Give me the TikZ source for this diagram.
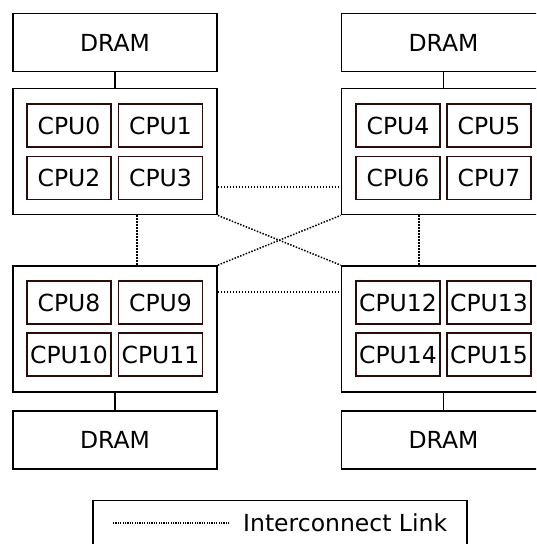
\documentclass[tikz,border=0pt]{standalone}
\usepackage{fontspec}
\setmainfont{DejaVu Sans}
\definecolor{cpuedge}{RGB}{42,12,12}

\begin{document}
\begin{tikzpicture}[x=1pt,y=-1pt,font=\fontsize{23.5}{27}\selectfont]
    \tikzset{dram/.style = {shape=rectangle,draw,line width=1.8pt,minimum width=204pt,minimum height=58pt,inner sep=0pt}}
    \tikzset{socket/.style = {shape=rectangle,draw,line width=1.8pt,minimum width=204pt,minimum height=126pt,inner sep=0pt}}
    \tikzset{cpu/.style = {shape=rectangle,draw=cpuedge,line width=1.5pt,minimum width=84pt,minimum height=43pt,inner sep=0pt}}
    \tikzset{bus/.style = {line width=1.5pt}}
    \tikzset{link/.style = {line width=1.5pt,dash pattern=on 1.5pt off 1.5pt}}
    \useasboundingbox (0,0) rectangle (536,544);
    \clip (0,0) rectangle (536,544);
    \fill[white] (0,0) rectangle (536,544);
    % memory
    \node[dram] (m0) at (115,42.5) {DRAM};
    \node[dram] (m1) at (443.5,42.5) {DRAM};
    \node[dram] (m2) at (115,440) {DRAM};
    \node[dram] (m3) at (443.5,440) {DRAM};
    % sockets
    \node[socket] (s0) at (115,151.5) {};
    \node[socket] (s1) at (443.5,151.5) {};
    \node[socket] (s2) at (115,329) {};
    \node[socket] (s3) at (443.5,329) {};
    % cpus
    \node[cpu] (c0) at (69,125.5) {CPU0};
    \node[cpu] (c1) at (160.5,125.5) {CPU1};
    \node[cpu] (c2) at (69,178) {CPU2};
    \node[cpu] (c3) at (160.5,178) {CPU3};
    \node[cpu] (c4) at (398,125.5) {CPU4};
    \node[cpu] (c5) at (489,125.5) {CPU5};
    \node[cpu] (c6) at (398,178) {CPU6};
    \node[cpu] (c7) at (489,178) {CPU7};
    \node[cpu] (c8) at (69,302.5) {CPU8};
    \node[cpu] (c9) at (160.5,302.5) {CPU9};
    \node[cpu] (c10) at (69,354.5) {CPU10};
    \node[cpu] (c11) at (160.5,354.5) {CPU11};
    \node[cpu] (c12) at (398,302.5) {CPU12};
    \node[cpu] (c13) at (489,302.5) {CPU13};
    \node[cpu] (c14) at (398,354.5) {CPU14};
    \node[cpu] (c15) at (489,354.5) {CPU15};
    %edges
    \draw[bus] (m0) -- (s0);
    \draw[bus] (m1) -- (s1);
    \draw[bus] (m2) -- (s2);
    \draw[bus] (m3) -- (s3);
    \draw[link] ([yshift=-35.5pt]s0.east) -- ([yshift=-35.5pt]s1.west);
    \draw[link] ([yshift=37pt]s2.east) -- ([yshift=37pt]s3.west);
    \draw[link] ([xshift=22pt]s0.south) -- ([xshift=22pt]s2.north);
    \draw[link] ([xshift=-24.5pt]s1.south) -- ([xshift=-24.5pt]s3.north);
    \draw[link] (s0.south east) -- (s3.north west);
    \draw[link] (s2.north east) -- (s1.south west);
    % key
    \node[shape=rectangle,draw,line width=1.8pt,minimum width=374pt,minimum height=60pt] (key) at (279.7,530.5) {};
    \coordinate (k0) at (113,523);
    \coordinate (k1) at (230,523);
    \draw[link,line width=1.2pt,dash pattern=on 1.2pt off 1.2pt] (k0) -- (k1);
    \node[anchor=base west,inner sep=0pt] (keytext) at (243,531) {Interconnect Link};
\end{tikzpicture}
\end{document}
